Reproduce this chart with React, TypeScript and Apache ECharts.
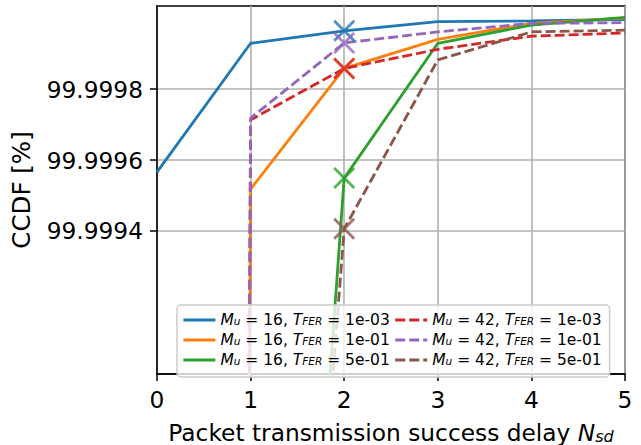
import React, { useEffect, useRef } from "react";
import * as echarts from "echarts";

const xValues = [0, 1, 2, 3, 4, 5];
const seriesNames = [
  "M_u = 16, T_FER = 1e-03",
  "M_u = 16, T_FER = 1e-01",
  "M_u = 16, T_FER = 5e-01",
  "M_u = 42, T_FER = 1e-03",
  "M_u = 42, T_FER = 1e-01",
  "M_u = 42, T_FER = 5e-01",
];
const muValues = ["16", "16", "16", "42", "42", "42"];
const tferValues = ["1e-03", "1e-01", "5e-01", "1e-03", "1e-01", "5e-01"];
const dashed = [false, false, false, true, true, true];
const colors = ["#1f77b4", "#ff7f0e", "#2ca02c", "#d62728", "#9467bd", "#8c564b"];

const m16_1e3 = [99.999566, 99.999929, 99.999964, 99.99999, 99.999992, 99.999996];
const m16_1e1 = [99.95, 99.999518, 99.999858, 99.99994, 99.999985, 100.0];
const m16_5e1 = [99.98, 99.99589, 99.999549, 99.999929, 99.99998, 100.000002];
const m42_1e3 = [99.95, 99.999713, 99.999858, 99.999912, 99.999949, 99.999958];
const m42_1e1 = [99.95, 99.999718, 99.99993, 99.999961, 99.999985, 99.999987];
const m42_5e1 = [99.98, 99.996, 99.999406, 99.999882, 99.999961, 99.999966];
const seriesValues = [m16_1e3, m16_1e1, m16_5e1, m42_1e3, m42_1e1, m42_5e1];

const markerX = 2;
const yTicks = [99.9994, 99.9996, 99.9998];
const xTicks = [0, 1, 2, 3, 4, 5];
const yMin = 99.998997;
const yMax = 100.000034;

// legend order: row-major (col 1 = M_u 16, col 2 = M_u 42)
const legendOrder = [0, 3, 1, 4, 2, 5];

const FONT = "DejaVu Sans";
const TICK_FS = 23.3;

export default function App() {
  const ref = useRef<HTMLDivElement>(null);
  useEffect(() => {
    if (!ref.current) return;
    const chart = echarts.init(ref.current, undefined, { renderer: "svg" });

    const series: any[] = [];
    seriesValues.forEach((vals, i) => {
      series.push({
        name: seriesNames[i],
        type: "line",
        data: xValues.map((x, j) => [x, vals[j]]),
        symbol: "none",
        color: colors[i],
        lineStyle: {
          color: colors[i],
          width: 2.8,
          type: dashed[i] ? [10, 4] : "solid",
          cap: "butt",
        },
        z: 2,
        clip: true,
      });
      series.push({
        name: seriesNames[i] + " marker",
        type: "scatter",
        data: [[markerX, vals[xValues.indexOf(markerX)]]],
        symbol: "path://M0,0L10,10M10,0L0,10",
        symbolSize: 20,
        itemStyle: { color: "none", borderColor: colors[i], borderWidth: 2.8 },
        z: 3,
      });
    });

    const richLegend = {
      n: { fontFamily: FONT, fontSize: 15.5, color: "#000", lineHeight: 12.3 },
      it: { fontFamily: FONT, fontSize: 15.5, fontStyle: "italic", color: "#000", lineHeight: 12.3 },
      sub: {
        fontFamily: FONT,
        fontSize: 10.5,
        fontStyle: "italic",
        color: "#000",
        lineHeight: 1,
        verticalAlign: "bottom",
      },
    };
    const legendFormatter = (name: string) => {
      const i = seriesNames.indexOf(name);
      return `{it|M}{sub|u}{n| = ${muValues[i]}, }{it|T}{sub|FER}{n| = ${tferValues[i]}}`;
    };

    chart.setOption({
      animation: false,
      textStyle: { fontFamily: FONT },
      grid: {
        left: 157,
        right: 16,
        top: 6,
        bottom: 71,
        show: true,
        borderColor: "#000",
        borderWidth: 1.5,
        containLabel: false,
        outerBoundsMode: "none",
      },
      legend: {
        orient: "horizontal",
        left: 177,
        top: 305,
        width: 450,
        itemWidth: 32,
        itemHeight: 12.3,
        itemGap: 4,
        padding: [7, 8, 9, 5],
        backgroundColor: "rgba(255,255,255,0.8)",
        borderColor: "#cccccc",
        borderWidth: 1.5,
        borderRadius: 4,
        selectedMode: false,
        itemStyle: { opacity: 0 },
        lineStyle: { width: 2.8 },
        data: legendOrder.map((k) => seriesNames[k]),
        formatter: legendFormatter,
        textStyle: { fontFamily: FONT, fontSize: 15.5, color: "#000", lineHeight: 12.3, rich: richLegend },
        z: 20,
      },
      xAxis: {
        type: "value",
        min: 0,
        max: 5,
        interval: 1,
        axisLine: { show: true, lineStyle: { color: "#000", width: 1.5 } },
        axisTick: { show: true, length: 7, lineStyle: { color: "#000", width: 1.5 } },
        axisLabel: {
          color: "#000",
          fontSize: TICK_FS,
          fontFamily: FONT,
          margin: 14,
          customValues: xTicks,
        },
        splitLine: { show: true, lineStyle: { color: "#b0b0b0", width: 1.6 } },
        name: "Packet transmission success delay {it|N}{sub|sd}",
        nameLocation: "middle",
        nameGap: 46,
        nameTextStyle: {
          color: "#000",
          fontSize: TICK_FS,
          fontFamily: FONT,
          lineHeight: 24,
          rich: {
            it: { fontSize: TICK_FS, fontStyle: "italic", fontFamily: FONT, color: "#000", lineHeight: 24 },
            sub: {
              fontSize: 16,
              fontStyle: "italic",
              fontFamily: FONT,
              color: "#000",
              lineHeight: 12,
              verticalAlign: "bottom",
            },
          },
        },
      },
      yAxis: {
        type: "value",
        min: yMin,
        max: yMax,
        axisLine: { show: true, lineStyle: { color: "#000", width: 1.5 } },
        axisTick: { show: true, length: 7, lineStyle: { color: "#000", width: 1.5 }, customValues: yTicks },
        axisLabel: {
          color: "#000",
          fontSize: TICK_FS,
          fontFamily: FONT,
          margin: 14,
          customValues: yTicks,
          formatter: (v: number) => v.toFixed(4),
        },
        splitLine: { show: true, lineStyle: { color: "#b0b0b0", width: 1.6 } },
        name: "CCDF [%]",
        nameLocation: "middle",
        nameGap: 123,
        nameTextStyle: { color: "#000", fontSize: 24.5, fontFamily: FONT },
      },
      series,
    });
    return () => chart.dispose();
  }, []);
  return (
    <div
      ref={ref}
      style={{ position: "absolute", left: 0, top: 0, width: 641, height: 445 }}
    />
  );
}
